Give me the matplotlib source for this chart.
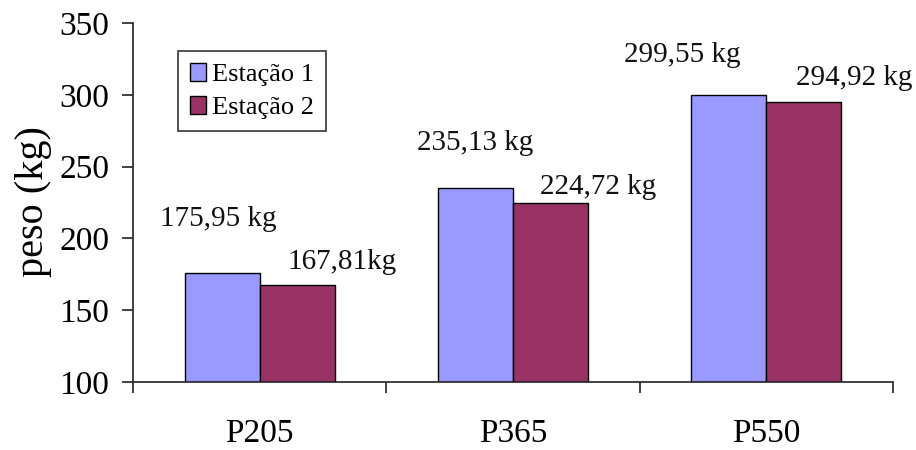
import matplotlib
matplotlib.use("Agg")
import matplotlib.pyplot as plt
import numpy as np

# Data
categories = ["P205", "P365", "P550"]
series_names = ["Estação 1", "Estação 2"]
estacao1 = [175.95, 235.13, 299.55]
estacao2 = [167.81, 224.72, 294.92]
labels1 = ["175,95 kg", "235,13 kg", "299,55 kg"]
labels2 = ["167,81kg", "224,72 kg", "294,92 kg"]
y_ticks = [100, 150, 200, 250, 300, 350]

# Label offsets (pixels) relative to the top centre of each bar
offsets1 = [(-4, 54), (0, 45), (-47, 40)]
offsets2 = [(45, 23), (48, 16), (50, 24)]

colors = ["#9999FF", "#993366"]
serif = "Liberation Serif"
plt.rcParams["font.family"] = serif

fig = plt.figure(figsize=(9.16, 4.5), dpi=100)
ax = fig.add_axes([133 / 916, 1 - 382 / 450, 760 / 916, 359 / 450])

x = np.arange(len(categories))
w = 0.296
b1 = ax.bar(x - w / 2, estacao1, w, bottom=0, color=colors[0],
            edgecolor="black", linewidth=1.0, label=series_names[0])
b2 = ax.bar(x + w / 2, estacao2, w, bottom=0, color=colors[1],
            edgecolor="black", linewidth=1.0, label=series_names[1])

for bars, vals, labs, offs in [(b1, estacao1, labels1, offsets1),
                               (b2, estacao2, labels2, offsets2)]:
    for bar, v, lab, (dx, dy) in zip(bars, vals, labs, offs):
        ax.annotate(lab, (bar.get_x() + bar.get_width() / 2, v),
                    xytext=(dx, dy), textcoords="offset pixels",
                    ha="center", va="center", fontsize=21, color="#111111")

ax.set_xlim(-0.5, len(categories) - 0.5)
ax.set_ylim(100, 350)
ax.set_yticks(y_ticks)
ax.set_yticklabels([str(t) for t in y_ticks], fontsize=24)
ax.tick_params(axis="y", direction="out", length=8, width=1.2, pad=9, color="#222222")

# Category ticks sit on the boundaries between groups
ax.set_xticks(np.arange(len(categories) + 1) - 0.5)
ax.set_xticklabels([])
ax.set_xticks(x, minor=True)
ax.set_xticklabels(categories, minor=True, fontsize=24)
ax.tick_params(axis="x", which="major", direction="out", length=8, width=1.2, color="#222222")
ax.tick_params(axis="x", which="minor", length=0, pad=26)

for s in ["top", "right"]:
    ax.spines[s].set_visible(False)
for s in ["left", "bottom"]:
    ax.spines[s].set_linewidth(1.2)
    ax.spines[s].set_color("#222222")

fig.text(34 / 916, 1 - 202 / 450, "peso (kg)", rotation=90,
         ha="center", va="center", fontsize=29)

leg = ax.legend(loc="upper left", bbox_to_anchor=(178 / 916, 1 - 51 / 450),
                bbox_transform=fig.transFigure, fontsize=19, frameon=True,
                fancybox=False, shadow=False, borderaxespad=0,
                handlelength=0.6, handleheight=0.7, handletextpad=0.25,
                labelspacing=0.35, borderpad=0.45)
leg.get_frame().set_edgecolor("black")
leg.get_frame().set_linewidth(1.2)

fig.savefig("out.png", dpi=100)
